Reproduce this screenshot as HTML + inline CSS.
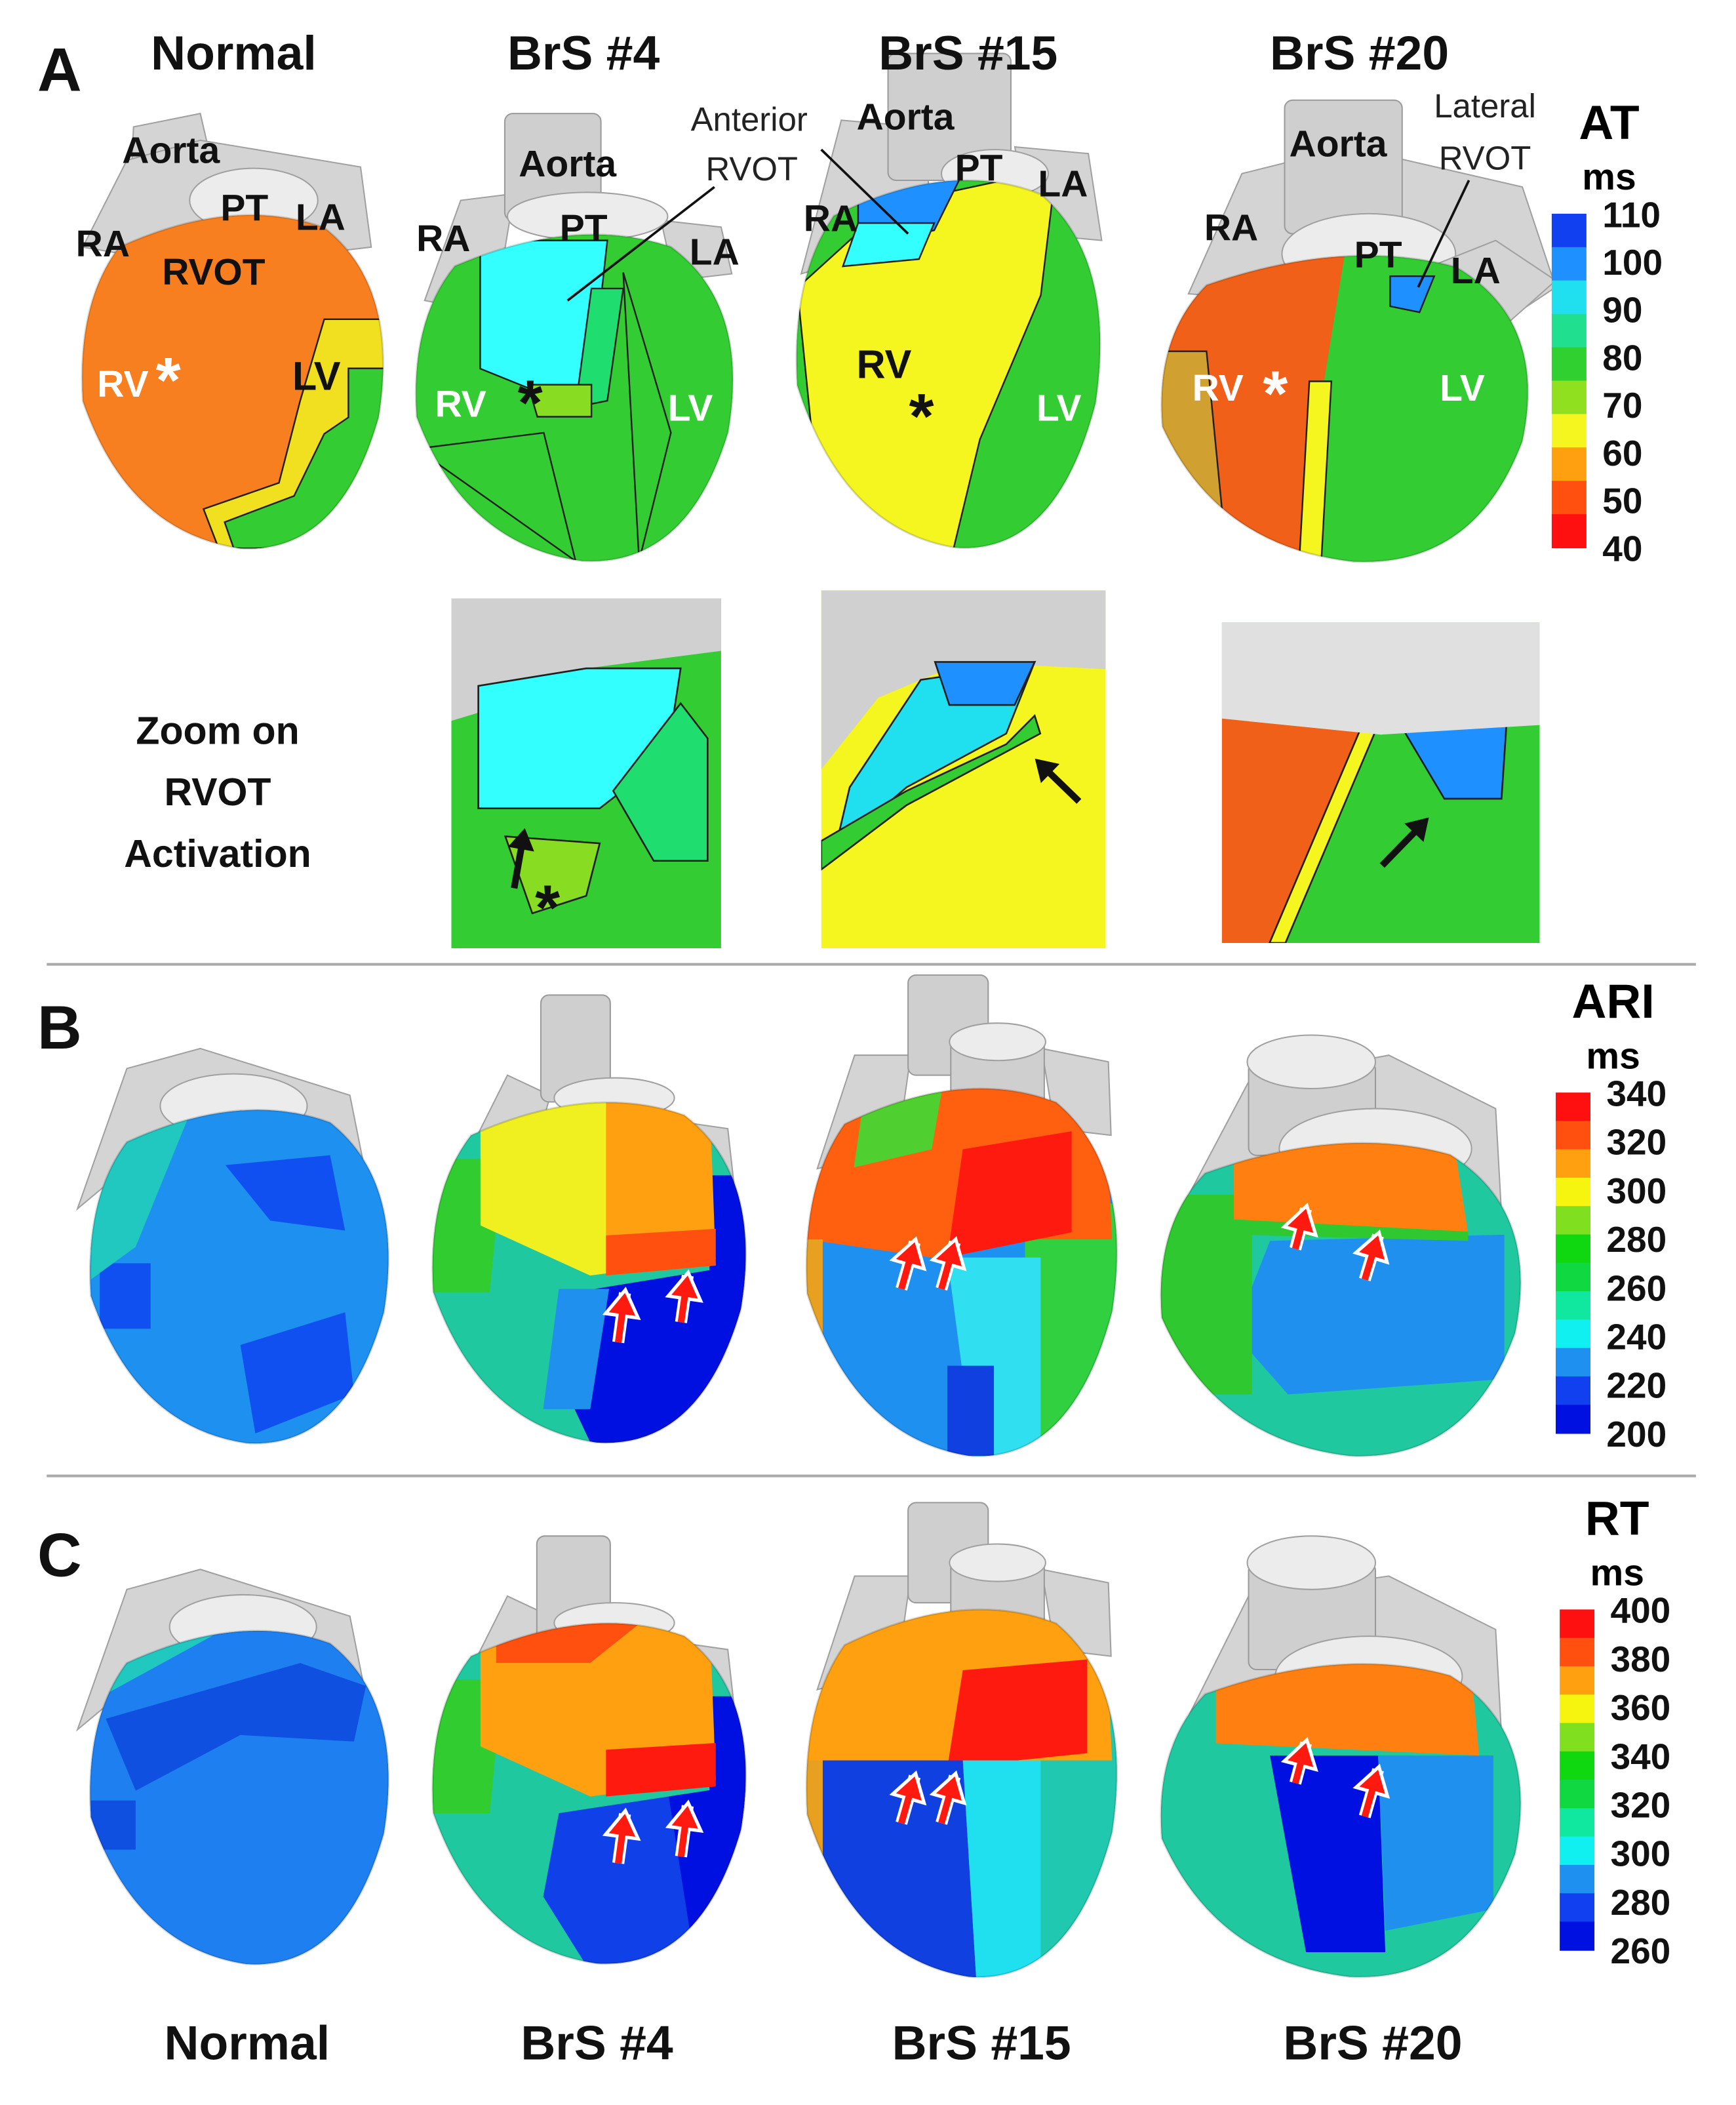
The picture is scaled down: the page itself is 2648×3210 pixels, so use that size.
<!DOCTYPE html>
<html><head><meta charset="utf-8"><style>
html,body{margin:0;padding:0;background:#fff}
svg{display:block}
text{font-family:"Liberation Sans",sans-serif}
</style></head><body>
<svg id="fig" width="2648" height="3210" viewBox="0 0 1300 1576" preserveAspectRatio="none" xmlns="http://www.w3.org/2000/svg">
<rect width="1300" height="1576" fill="#fff"/>
<g id="hearts"></g>
<g id="zooms"></g>
<g id="bars"></g>
<g id="labels" font-weight="bold"></g>
</svg>
<script>
// ---- colorbar data ----
const atTicks=[110,100,90,80,70,60,50,40];
const atColors=["#1040f0","#1e90ff","#20e0f0","#20e090","#30d030","#90e020","#f5f520","#ffa010","#ff5010","#ff1010"];
const ariTicks=[340,320,300,280,260,240,220,200];
const ariColors=["#ff1010","#ff5010","#ffa010","#f5f510","#80e020","#10d810","#10d840","#10e8a0","#10f0f0","#1e90f0","#1040f0","#0010e0"];
const rtTicks=[400,380,360,340,320,300,280,260];
const rtColors=["#ff1010","#ff5010","#ffa010","#f5f510","#80e020","#10d810","#10d840","#10e8a0","#10f0f0","#1e90f0","#1040f0","#0010e0"];

const NS="http://www.w3.org/2000/svg";
function mk(tag,attrs,parent){const e=document.createElementNS(NS,tag);for(const k in attrs)e.setAttribute(k,attrs[k]);parent.appendChild(e);return e;}
const H=document.getElementById('hearts'),Z=document.getElementById('zooms'),B=document.getElementById('bars'),L=document.getElementById('labels');
const defs=mk('defs',{},document.getElementById('fig'));

function bodyPath(cx,cy,w,h){
 const p=(u,v)=>(cx+u*w).toFixed(1)+','+(cy+v*h).toFixed(1);
 return 'M'+p(-.38,-.42)+' Q'+p(0,-.58)+' '+p(.3,-.48)+' Q'+p(.55,-.3)+' '+p(.48,.1)+' Q'+p(.35,.52)+' '+p(.02,.5)+' Q'+p(-.35,.45)+' '+p(-.5,.05)+' Q'+p(-.52,-.25)+' '+p(-.38,-.42)+'Z';
}
let hid=0;
function heart(name,cx,cy,w,h,base,patches,vessels){
 const g=mk('g',{},H);
 
 
 vessels.forEach(v=>{
  let e;
  if(v[0]==='r') e=mk('rect',{x:v[1],y:v[2],width:v[3],height:v[4],rx:6,fill:'#cfcfcf',stroke:'#9a9a9a','stroke-width':1},g);
  else if(v[0]==='e') e=mk('ellipse',{cx:v[1],cy:v[2],rx:v[3],ry:v[4],fill:'#ececec',stroke:'#a0a0a0','stroke-width':1},g);
  else e=mk('polygon',{points:v[1],fill:'#d4d4d4',stroke:'#a0a0a0','stroke-width':1},g);
  
  
 });
 const id='clip'+(hid++);
 const cp=mk('clipPath',{id:id},defs);
 const d=bodyPath(cx,cy,w,h);
 mk('path',{d:d},cp);
 const bg=mk('g',{'clip-path':'url(#'+id+')'},g);
 mk('path',{d:d,fill:base},bg);
 patches.forEach(pt=>{
  const pts=pt[1].map(q=>(cx+q[0]*w).toFixed(1)+','+(cy+q[1]*h).toFixed(1)).join(' ');
  const e=mk('polygon',{points:pts,fill:pt[0],stroke:pt[2]||'none','stroke-width':1.2},bg);
  
  
 });
 mk('path',{d:d,fill:'none',stroke:'rgba(0,0,0,0.15)','stroke-width':1.5},g);
}
const K='#202020';
// Row A
heart('heart-a-normal',175,288,226,245,'#f77f1f',[
 ['#f0e020',[[.3,-.2],[.6,-.2],[.6,.5],[-.05,.5],[-.1,.38],[.15,.3],[.22,.05]],K],
 ['#33cc33',[[.38,-.05],[.6,-.05],[.6,.5],[0,.5],[-.03,.42],[.2,.34],[.3,.15],[.38,.1]],K]
],[['p','95,200 100,95 150,85 165,150'],['p','62,185 95,120 150,105 270,125 278,185 150,200'],['e',190,150,48,24]]);
heart('heart-a-brs4',431,300,238,240,'#33cc33',[
 ['#33ffff',[[-.3,-.5],[.1,-.5],[.05,-.05],[-.05,0],[-.3,-.1]],K],
 ['#20dd70',[[.05,-.35],[.15,-.35],[.1,0],[.0,.02]],K],
 ['#88dd22',[[-.15,-.05],[.05,-.05],[.05,.05],[-.12,.05]],K],
 ['none',[[-.5,.15],[-.1,.1],[.0,.5]],K],
 ['none',[[.15,-.4],[.3,.1],[.2,.5]],K]
],[['p','318,225 345,150 385,145 370,235'],['p','495,165 540,170 548,205 505,210'],['r',378,85,72,80],['e',440,162,60,18]]);
heart('heart-a-brs15',711,275,228,270,'#33cc33',[
 ['#f5f520',[[-.5,-.22],[-.2,-.45],[.35,-.55],[.3,-.2],[.1,.2],[0,.55],[-.2,.55],[-.45,.2]],K],
 ['#1e90ff',[[-.3,-.55],[.05,-.55],[-.05,-.38],[-.3,-.33]],K],
 ['#33ffff',[[-.3,-.4],[-.05,-.4],[-.1,-.3],[-.35,-.28]],K]
],[['p','600,205 630,90 690,95 700,175'],['r',665,40,92,95],['p','760,110 815,115 825,180 770,175'],['e',745,130,40,18]]);
heart('heart-a-brs20',1008,308,275,225,'#33cc33',[
 ['#f06018',[[-.5,-.55],[0,-.55],[-.08,.05],[-.1,.55],[-.5,.55]]],
 ['#d0a030',[[-.55,-.2],[-.38,-.2],[-.32,.55],[-.55,.55]],K],
 ['#f5f520',[[-.1,-.1],[-.04,-.1],[-.07,.55],[-.13,.55]],K],
 ['#1e90ff',[[.12,-.45],[.24,-.45],[.2,-.33],[.12,-.35]],K]
],[['p','890,220 930,130 1010,110 1140,140 1165,215 1120,245 1050,230'],['r',962,75,88,100],['e',1025,190,65,30],['p','1070,200 1120,180 1165,210 1120,250 1080,245']]);
// Row B
heart('heart-b-normal',180,958,224,245,'#1e90f0',[
 ['#1050f0',[[-.05,-.35],[.3,-.38],[.35,-.15],[.1,-.18]]],
 ['#1050f0',[[0,.2],[.35,.1],[.38,.35],[.05,.47]]],
 ['#1050f0',[[-.47,-.05],[-.3,-.05],[-.3,.15],[-.47,.15]]],
 ['#20c8c0',[[-.5,-.55],[-.15,-.55],[-.35,-.1],[-.5,0]]]
],[['p','58,905 95,800 150,785 262,820 272,870 200,850 100,870'],['e',175,828,55,24]]);
heart('heart-b-brs4',442,955,235,250,'#20c8a0',[
 ['#0010e0',[[-.05,.05],[.6,-.05],[.6,.6],[.05,.6],[-.1,.3]]],
 ['#0010e0',[[.38,-.3],[.6,-.3],[.6,.05],[.38,.05]]],
 ['#30cc30',[[-.55,-.35],[-.28,-.35],[-.32,.05],[-.55,.05]]],
 ['#f0f020',[[-.35,-.55],[.35,-.55],[.4,-.05],[0,0],[-.35,-.15]]],
 ['#ffa010',[[.05,-.55],[.38,-.55],[.4,-.03],[.05,0]]],
 ['#ff5010',[[.05,-.12],[.4,-.14],[.4,-.03],[.05,0]]],
 ['#2090ee',[[-.1,.04],[.06,.04],[0,.4],[-.15,.4]]]
],[['p','345,875 380,805 412,820 392,895'],['r',405,745,52,80],['p','510,840 545,845 550,890 520,885'],['e',460,822,45,15]]);
heart('heart-b-brs15',721,955,233,270,'#1e90f0',[
 ['#30d040',[[.2,-.2],[.6,-.2],[.6,.6],[.2,.6]]],
 ['#30e0f0',[[-.05,-.05],[.25,-.05],[.25,.6],[.05,.6]]],
 ['#ff6010',[[-.55,-.6],[.45,-.6],[.48,-.1],[.2,-.1],[-.1,-.05],[-.5,-.1]]],
 ['#ff1a10',[[0,-.35],[.35,-.4],[.35,-.12],[-.05,-.05]]],
 ['#50d030',[[-.3,-.6],[-.05,-.6],[-.1,-.35],[-.35,-.3]]],
 ['#1040e0',[[-.05,.25],[.1,.25],[.1,.5],[-.05,.5]]],
 ['#e8a020',[[-.55,-.1],[-.45,-.1],[-.45,.4],[-.55,.4]]]
],[['p','612,875 640,790 682,790 672,860'],['r',680,730,60,75],['p','780,785 830,795 832,850 790,845'],['r',712,775,70,60],['e',747,780,36,14]]);
heart('heart-b-brs20',1005,975,270,230,'#20c8a0',[
 ['#2090ee',[[-.2,-.2],[.45,-.22],[.45,.25],[-.15,.3],[-.3,.1]]],
 ['#30c830',[[-.55,-.35],[-.25,-.35],[-.25,.3],[-.55,.3]]],
 ['#ff8010',[[-.3,-.6],[.3,-.6],[.35,-.22],[-.3,-.26]]],
 ['#30c830',[[-.3,-.27],[.35,-.23],[.35,-.2],[-.3,-.22]]]
],[['p','890,895 935,810 1040,790 1120,830 1125,920 1060,900'],['r',935,795,95,70],['e',982,795,48,20],['e',1030,860,72,30]]);
// Row C
heart('heart-c-normal',180,1348,224,245,'#1e80f0',[
 ['#1050e0',[[-.45,-.25],[.2,-.42],[.42,-.35],[.38,-.18],[0,-.2],[-.35,-.03]]],
 ['#1050e0',[[-.5,.0],[-.35,.0],[-.35,.15],[-.5,.15]]],
 ['#20c8c0',[[-.5,-.6],[.1,-.6],[-.3,-.4],[-.5,-.3]]]
],[['p','58,1295 95,1190 150,1175 262,1210 272,1260 200,1240 100,1260'],['e',182,1218,55,24]]);
heart('heart-c-brs4',442,1345,235,250,'#20c8a0',[
 ['#1040e8',[[-.1,.05],[.6,-.05],[.6,.6],[.05,.6],[-.15,.3]]],
 ['#0010e0',[[.25,.0],[.6,-.05],[.6,.6],[.35,.6]]],
 ['#0010e0',[[.38,-.3],[.6,-.3],[.6,.05],[.38,.05]]],
 ['#30cc30',[[-.55,-.35],[-.28,-.35],[-.32,.05],[-.55,.05]]],
 ['#ffa010',[[-.35,-.55],[.38,-.55],[.4,-.05],[0,0],[-.35,-.15]]],
 ['#ff5010',[[-.3,-.55],[.2,-.55],[.0,-.4],[-.3,-.4]]],
 ['#ff1a10',[[.05,-.14],[.4,-.16],[.4,-.03],[.05,0]]]
],[['p','345,1265 380,1195 412,1210 392,1285'],['r',402,1150,55,80],['p','510,1230 545,1235 550,1280 520,1275'],['e',460,1215,45,15]]);
heart('heart-c-brs15',721,1345,233,270,'#20c8b0',[
 ['#ffa010',[[-.55,-.6],[.45,-.6],[.48,-.1],[-.55,-.1]]],
 ['#ff1a10',[[0,-.35],[.4,-.38],[.4,-.12],[-.05,-.08]]],
 ['#1040e0',[[-.5,-.1],[0,-.1],[.05,.6],[-.5,.6]]],
 ['#20e0f0',[[0,-.1],[.25,-.1],[.25,.6],[.05,.6]]],
 ['#e8a020',[[-.55,-.1],[-.45,-.1],[-.45,.4],[-.55,.4]]]
],[['p','612,1265 640,1180 682,1180 672,1250'],['r',680,1125,60,75],['p','780,1175 830,1185 832,1240 790,1235'],['r',712,1165,70,60],['e',747,1170,36,14]]);
heart('heart-c-brs20',1005,1365,270,230,'#20c8a0',[
 ['#0010e0',[[-.2,-.22],[.1,-.22],[.12,.42],[-.1,.42]]],
 ['#2090ee',[[.1,-.22],[.42,-.22],[.42,.28],[.12,.35]]],
 ['#ff8010',[[-.35,-.6],[.35,-.6],[.38,-.22],[-.35,-.26]]]
],[['p','890,1285 935,1195 1040,1180 1120,1220 1125,1310 1060,1290'],['r',935,1170,95,80],['e',982,1170,48,20],['e',1025,1255,70,30]]);

// Zoom panels
function zoomPanel(name,x,y,w,h,regions){
 const g=mk('g',{},Z);
 
 
 const id='zc'+(hid++);const cp=mk('clipPath',{id:id},defs);mk('rect',{x:x,y:y,width:w,height:h},cp);
 const cg=mk('g',{'clip-path':'url(#'+id+')'},g);
 regions.forEach(r=>{
  const pts=r[1].map(q=>(x+q[0]*w).toFixed(1)+','+(y+q[1]*h).toFixed(1)).join(' ');
  mk('polygon',{points:pts,fill:r[0],stroke:r[2]||'none','stroke-width':1.3},cg);
 });
}
zoomPanel('zoom-brs4',338,448,202,262,[
 ['#33cc33',[[0,0],[1,0],[1,1],[0,1]]],
 ['#d0d0d0',[[0,0],[1,0],[1,.15],[.5,.2],[.3,.28],[0,.35]]],
 ['#33ffff',[[.1,.25],[.5,.2],[.85,.2],[.8,.45],[.55,.6],[.1,.6]],K],
 ['#20dd70',[[.6,.55],[.85,.3],[.95,.4],[.95,.75],[.75,.75]],K],
 ['#88dd22',[[.2,.68],[.55,.7],[.5,.85],[.3,.9]],K]
]);
zoomPanel('zoom-brs15',615,442,213,268,[
 ['#f5f520',[[0,0],[1,0],[1,1],[0,1]]],
 ['#d0d0d0',[[0,0],[1,0],[1,.22],[.5,.2],[.2,.3],[0,.5]]],
 ['#20e0f0',[[.1,.55],[.35,.25],[.6,.22],[.75,.2],[.65,.4],[.3,.55],[.05,.72]],K],
 ['#1e90ff',[[.4,.2],[.75,.2],[.68,.32],[.45,.32]],K],
 ['#33cc33',[[.0,.7],[.3,.56],[.65,.43],[.75,.35],[.77,.4],[.3,.6],[0,.78]],K]
]);
zoomPanel('zoom-brs20',915,466,238,240,[
 ['#33cc33',[[0,0],[1,0],[1,1],[0,1]]],
 ['#f06018',[[0,.3],[.45,.3],[.3,.65],[.15,1],[0,1]]],
 ['#f5f520',[[.45,.3],[.5,.3],[.2,1],[.15,1]],K],
 ['#1e90ff',[[.55,.3],[.9,.25],[.88,.55],[.7,.55]],K],
 ['#e0e0e0',[[0,0],[1,0],[1,.32],[.5,.35],[0,.3]]]
]);

// Colorbars
function colorbar(name,x,y,w,h,colors,ticks,title){
 const g=mk('g',{},B);
 
 
 const n=colors.length;
 colors.forEach((c,i)=>{mk('rect',{x:x,y:y+i*h/n,width:w,height:h/n+0.5,fill:c},g);});
 ticks.forEach((t,i)=>{
  const e=mk('text',{x:x+w+12,y:y+i*h/(ticks.length-1)+10,'font-size':27,'font-weight':'bold',fill:'#111'},g);
  e.textContent=t;
  
  
 });
 const t=mk('text',{x:x+w/2+30,y:y-56,'font-size':36,'font-weight':'bold','text-anchor':'middle'},g);t.textContent=title;
 const m=mk('text',{x:x+w/2+30,y:y-18,'font-size':28,'font-weight':'bold','text-anchor':'middle'},g);m.textContent='ms';
}
colorbar('at-colorbar',1162,160,26,250,atColors,atTicks,'AT');
colorbar('ari-colorbar',1165,818,26,255,ariColors,ariTicks,'ARI');
colorbar('rt-colorbar',1168,1205,26,255,rtColors,rtTicks,'RT');

// separators
[722,1105].forEach(y=>{const l=mk('line',{x1:35,x2:1270,y1:y,y2:y,stroke:'#aaa','stroke-width':2},B);
 
 });

// labels
function txt(s,x,y,size,fill,anchor,weight,name){
 const e=mk('text',{x:x,y:y,'font-size':size,fill:fill||'#111','text-anchor':anchor||'middle','font-weight':weight||'bold'},L);
 e.textContent=s;
 
 
 return e;
}
txt('A',28,68,46,'#111','start','bold','panel-a-label');
txt('B',28,785,46,'#111','start','bold','panel-b-label');
txt('C',28,1180,46,'#111','start','bold','panel-c-label');
[['Normal',175],['BrS #4',437],['BrS #15',725],['BrS #20',1018]].forEach(c=>{
 txt(c[0],c[1],52,36,'#111','middle','bold','column-title');
 txt(c[0],c[1]+10,1542,36,'#111','middle','bold','column-footer');
});
const an=[['Aorta',128,122],['PT',183,165],['LA',240,172],['RA',77,192],['Aorta',425,132],['PT',437,180],['RA',332,188],['LA',535,198],
 ['Aorta',678,97],['PT',733,135],['LA',796,147],['RA',622,173],['Aorta',1002,117],['PT',1032,200],['LA',1105,212],['RA',922,180]];
an.forEach(a=>txt(a[0],a[1],a[2],28,'#111','middle','bold','anatomy-label'));
txt('RVOT',160,213,28,'#111','middle','bold','anatomy-label');
[['RV',92,297],['RV',345,312],['LV',517,315],['LV',793,315],['RV',912,300],['LV',1095,300]].forEach(a=>txt(a[0],a[1],a[2],28,'#fff','middle','bold','anatomy-label'));
txt('LV',237,292,30,'#111','middle','bold','anatomy-label');
txt('RV',662,283,30,'#111','middle','bold','anatomy-label');
[['*',126,285,'#fff'],['*',397,302,'#111'],['*',690,312,'#111'],['*',955,295,'#fff'],['*',410,680,'#111']].forEach(a=>txt(a[0],a[1],a[2]+16,48,a[3],'middle','bold','pacing-site-asterisk'));
txt('Anterior',561,98,25,'#222','middle','normal','annotation');
txt('RVOT',563,135,25,'#222','middle','normal','annotation');
txt('Lateral',1112,88,25,'#222','middle','normal','annotation');
txt('RVOT',1112,127,25,'#222','middle','normal','annotation');
txt('Zoom on',163,557,29,'#111','middle','bold','zoom-caption');
txt('RVOT',163,603,29,'#111','middle','bold','zoom-caption');
txt('Activation',163,649,29,'#111','middle','bold','zoom-caption');
// annotation lines
[[535,140,425,225],[615,112,680,175],[1100,135,1062,215]].forEach(l=>{
 const e=mk('line',{x1:l[0],y1:l[1],x2:l[2],y2:l[3],stroke:'#111','stroke-width':1.8},L);
 
 });
// arrows
function arrow(x1,y1,x2,y2,col,name){
 const ang=Math.atan2(y2-y1,x2-x1),s=10;
 const hp=(a)=>(x2-s*1.6*Math.cos(ang)+s*Math.cos(ang+a)).toFixed(1)+','+(y2-s*1.6*Math.sin(ang)+s*Math.sin(ang+a)).toFixed(1);
 const g=mk('g',{},L);
 
 
 if(col!=='#111'){mk('line',{x1:x1,y1:y1,x2:x2,y2:y2,stroke:'#fff','stroke-width':9},g);
  mk('polygon',{points:x2+','+y2+' '+hp(Math.PI/2)+' '+hp(-Math.PI/2),fill:'#fff',stroke:'#fff','stroke-width':5},g);}
 mk('line',{x1:x1,y1:y1,x2:x2-8*Math.cos(ang),y2:y2-8*Math.sin(ang),stroke:col,'stroke-width':5},g);
 mk('polygon',{points:x2+','+y2+' '+hp(Math.PI/2)+' '+hp(-Math.PI/2),fill:col},g);
}
arrow(385,665,393,620,'#111','zoom-arrow');
arrow(808,600,775,568,'#111','zoom-arrow');
arrow(1035,648,1070,612,'#111','zoom-arrow');
[[463,1005,468,968],[510,990,515,955],[675,965,685,930],[705,965,715,930],[970,935,978,905],[1022,958,1032,925],
 [463,1395,468,1358],[510,1390,515,1352],[675,1365,685,1330],[705,1365,715,1330],[970,1335,978,1305],[1022,1360,1032,1325]].forEach(a=>arrow(a[0],a[1],a[2],a[3],'#ff1a10','red-arrow'));
</script>
</body></html>
